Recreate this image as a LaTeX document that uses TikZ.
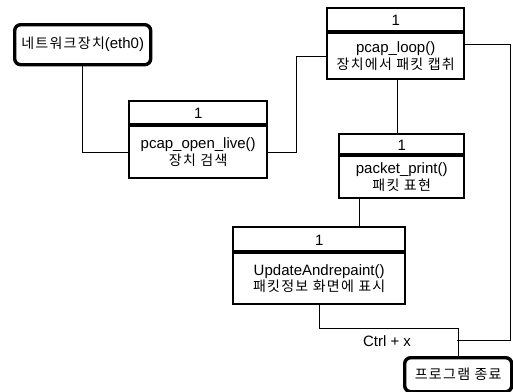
\documentclass[tikz,border=0pt]{standalone}
\usepackage{fontspec}
\setmainfont{Liberation Sans}
\newfontfamily\cjk[LetterSpace=9]{Noto Sans CJK KR}
\begin{document}
\begin{tikzpicture}[x=1pt,y=-1pt,
  every node/.style={font=\fontsize{15}{16.5}\selectfont, inner sep=0pt, align=center},
  hdr/.style={draw, line width=2.4pt, anchor=north west},
  bdy/.style={draw, line width=2.4pt, anchor=north west},
  sep/.style={line width=3.6pt},
  term/.style={draw, line width=3.4pt, rounded corners=6pt, anchor=north west},
  conn/.style={line width=0.8pt}]
\useasboundingbox (0,0) rectangle (513,391);
% terminal nodes
\node[term, minimum width=136pt, minimum height=40pt] (A) at (13,23) {{\cjk\fontsize{14}{16}\selectfont 네트워크장치}(eth0)};
\node[term, minimum width=107pt, minimum height=34pt] (F) at (403,356) {\cjk\fontsize{14}{16}\selectfont 프로그램 종료};
% pcap_open_live
\node[hdr, minimum width=138pt, minimum height=25pt] (Bh) at (128,100) {1};
\node[bdy, minimum width=138pt, minimum height=52pt] (Bb) at (128,125) {pcap\_open\_live()\\{\cjk\fontsize{14}{16}\selectfont 장치 검색}};
% pcap_loop
\node[hdr, minimum width=137pt, minimum height=25pt] (Ch) at (326,7) {1};
\node[bdy, minimum width=137pt, minimum height=46pt] (Cb) at (326,32) {pcap\_loop()\\{\cjk\fontsize{14}{16}\selectfont 장치에서 패킷 캡취}};
% packet_print
\node[hdr, minimum width=125pt, minimum height=22pt] (Dh) at (338,133) {1};
\node[bdy, minimum width=125pt, minimum height=42pt] (Db) at (338,155) {packet\_print()\\{\cjk\fontsize{14}{16}\selectfont 패킷 표현}};
% UpdateAndrepaint
\node[hdr, minimum width=172pt, minimum height=26pt] (Eh) at (232,226) {1};
\node[bdy, minimum width=172pt, minimum height=51pt] (Eb) at (232,252) {UpdateAndrepaint()\\{\cjk\fontsize{14}{16}\selectfont 패킷정보 화면에 표시}};
% header separators
\draw[sep] (Bb.north west) -- (Bb.north east);
\draw[sep] (Cb.north west) -- (Cb.north east);
\draw[sep] (Db.north west) -- (Db.north east);
\draw[sep] (Eb.north west) -- (Eb.north east);
% label
\node (L) at (387,341) {Ctrl + x};
% helper coordinates
\coordinate (BC) at (296,0);
\coordinate (CD) at (397,0);
\coordinate (DE) at (359,0);
\coordinate (RT) at (510,44);
\coordinate (RB) at (510,340);
\coordinate (EF) at (0,328);
\coordinate (J) at (457,340);
% connectors
\draw[conn] (A.south) |- (Bb.west);
\draw[conn] (Bb.east) -| (BC |- Cb.west) -- (Cb.west);
\draw[conn] (Cb.south -| CD) -- (Dh.north -| CD);
\draw[conn] (Db.south -| DE) -- (Eh.north -| DE);
\draw[conn] (Eb.south) -- (Eb.south |- EF) -| (F.north);
\draw[conn] (Cb.east |- RT) -- (RT) -- (RB) -- (J);
\end{tikzpicture}
\end{document}
